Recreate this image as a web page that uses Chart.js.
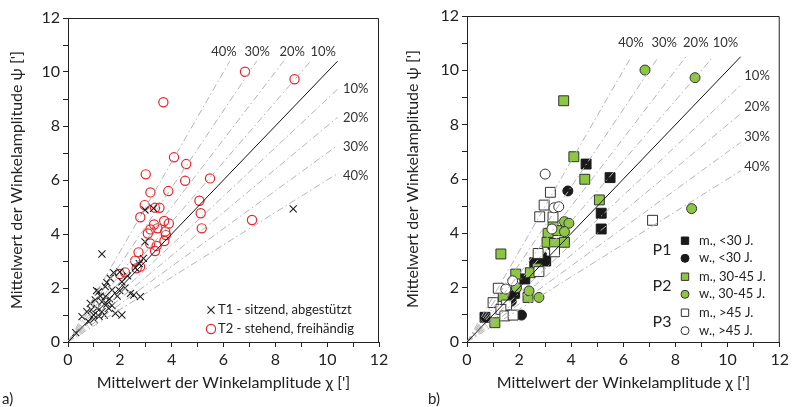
<!DOCTYPE html>
<html><head><meta charset="utf-8">
<script src="https://cdn.jsdelivr.net/npm/chart.js@4.4.0/dist/chart.umd.min.js"></script>
<style>
html,body{margin:0;padding:0;background:#fff;width:792px;height:407px;overflow:hidden}
canvas{position:absolute;top:0}
#ca{left:0}#cb{left:396px}
</style></head><body>
<canvas id="ca" width="396" height="407"></canvas>
<canvas id="cb" width="396" height="407"></canvas>
<script>
// ---------- data ----------
const axisMin = 0, axisMax = 12;
const tickLabels = ['0','2','4','6','8','10','12'];
const deviations = [0.1, 0.2, 0.3, 0.4];
const deviationLabels = ['10%', '20%', '30%', '40%'];
const guideEndA = 10.4, guideEndB = 10.5;

// chart a)
const t1Points = [[0.3,0.35],[0.54,0.94],[0.73,1.12],[0.8,0.75],[0.86,1.43],[0.9,1.2],[0.99,1.0],[1.0,0.85],
 [1.05,1.56],[1.1,1.9],[1.12,1.25],[1.18,1.86],[1.2,0.95],[1.25,1.7],[1.31,1.49],[1.31,1.12],[1.4,1.0],
 [1.44,1.68],[1.44,2.05],[1.5,1.4],[1.5,2.2],[1.57,1.25],[1.6,1.6],[1.63,2.36],[1.7,1.93],[1.7,1.35],
 [1.76,2.57],[1.83,1.06],[1.9,1.7],[2.0,1.9],[2.0,2.6],[2.08,1.0],[2.08,2.23],[2.2,2.0],[2.3,2.45],
 [2.41,1.8],[2.54,1.74],[2.6,2.75],[2.75,2.9],[2.79,1.68],[1.31,3.26],[2.91,3.1],[2.97,3.71],[2.97,4.89],
 [3.3,4.95],[8.69,4.93]];
const t2Points = [[2.0,2.52],[2.2,2.58],[2.65,2.73],[2.78,2.79],[2.59,3.01],[2.72,3.32],[3.36,3.37],[3.42,3.56],
 [3.17,3.65],[3.72,3.74],[3.78,3.96],[3.08,4.02],[3.75,4.09],[3.45,4.21],[3.18,4.17],[3.32,4.35],[3.89,4.39],
 [3.71,4.48],[2.79,4.62],[5.12,4.77],[3.53,4.97],[3.36,4.97],[2.96,5.07],[5.07,5.23],[3.87,5.59],[3.18,5.54],
 [5.48,6.06],[4.52,5.97],[3.0,6.21],[4.56,6.59],[4.09,6.84],[5.16,4.21],[7.1,4.52],[3.68,8.88],[6.83,10.01],[8.74,9.73]];

// chart b)
const p1Male = [[4.57,6.55],[5.49,6.05],[5.15,4.74],[5.15,4.16],[2.6,2.92],[3.02,2.98],[2.85,3.1],[3.3,3.6],
 [2.22,2.32],[1.83,1.79],[1.5,1.1],[0.69,0.91]];
const p1Female = [[3.87,5.56],[2.09,0.99],[1.7,1.5]];
const p2Male = [[3.71,8.88],[4.1,6.82],[4.52,5.99],[5.08,5.23],[3.3,4.3],[3.45,4.1],[3.11,4.0],[3.07,3.67],
 [3.36,3.63],[3.74,3.67],[1.3,3.24],[2.7,2.7],[1.87,2.5],[2.43,2.55],[1.39,1.67],[2.34,1.64],[1.07,0.71]];
const p2Female = [[6.83,10.01],[8.75,9.73],[8.62,4.91],[3.74,4.43],[3.91,4.37],[3.74,4.06],[2.38,1.88],[2.76,1.64],[1.9,2.0]];
const p3Male = [[3.2,5.51],[2.96,5.04],[2.79,4.61],[3.3,4.6],[7.12,4.48],[2.73,3.26],[3.36,3.32],[2.76,2.59],
 [1.2,1.98],[1.0,1.45],[1.52,1.36],[1.3,1.2],[1.45,0.96],[1.77,0.99]];
const p3Female = [[3.0,6.18],[3.34,4.94],[3.52,4.98],[3.26,4.16],[1.75,2.25],[1.49,1.95]];

// ---------- helpers ----------
const F = 'Lato, "Open Sans", sans-serif';
const INK = '#222';
const pts = a => a.map(p => ({x:p[0], y:p[1]}));

function guideDatasets(L){
  const ds = [{data:[{x:0,y:0},{x:L,y:L}], showLine:true, pointRadius:0, borderColor:'#111', borderWidth:1}];
  deviations.forEach(p=>{
    ds.push({data:[{x:0,y:0},{x:L*(1-p),y:L}], showLine:true, pointRadius:0, borderColor:'#b4b4b4', borderWidth:1, borderDash:[7,3,1.5,3]});
    ds.push({data:[{x:0,y:0},{x:L,y:L*(1-p)}], showLine:true, pointRadius:0, borderColor:'#b4b4b4', borderWidth:1, borderDash:[7,3,1.5,3]});
  });
  return ds;
}

function scales(yWidth, xHeight){
  const cb = v => { const i = tickLabels.indexOf(String(v)); return i>=0 ? tickLabels[i] : ''; };
  const common = {
    type:'linear', min:axisMin, max:axisMax,
    ticks:{stepSize:1, autoSkip:false, callback:cb, font:{family:F,size:16}, color:INK, padding:3, maxRotation:0},
    grid:{drawOnChartArea:false, drawTicks:true, tickLength:5, tickColor:INK, tickWidth:1},
    border:{color:INK, width:1}
  };
  return {
    x: Object.assign({}, common, {
      title:{display:true, text:"Mittelwert der Winkelamplitude χ [']", font:{family:F,size:16}, color:INK, padding:{top:0,bottom:15}},
      afterFit(s){ s.height = xHeight; }
    }),
    y: Object.assign({}, common, {
      title:{display:true, text:"Mittelwert der Winkelamplitude ψ [']", font:{family:F,size:16}, color:INK, padding:{top:7,bottom:0}},
      afterFit(s){ s.width = yWidth; }
    })
  };
}

function marker(ctx, style, r, x, y, fill, stroke, bw){
  ctx.save();
  ctx.fillStyle = fill; ctx.strokeStyle = stroke; ctx.lineWidth = bw;
  Chart.helpers.drawPoint(ctx, {pointStyle:style, radius:r, rotation:0, borderWidth:bw}, x, y);
  ctx.restore();
}

const decor = {
  id:'decor',
  afterDraw(chart, args, o){
    const {ctx, chartArea:a, scales:{x, y}} = chart;
    ctx.save();
    ctx.strokeStyle = INK; ctx.lineWidth = 1;
    ctx.beginPath();
    ctx.moveTo(a.left, a.top+0.5); ctx.lineTo(a.right-0.5, a.top+0.5); ctx.lineTo(a.right-0.5, a.bottom);
    ctx.stroke();
    ctx.fillStyle = '#333';
    ctx.font = '13px ' + F;
    ctx.textAlign = 'center'; ctx.textBaseline = 'middle';
    o.top.forEach((px, i) => ctx.fillText(deviationLabels[3-i], x.getPixelForValue(px), y.getPixelForValue(o.topY)));
    o.side.forEach((py, i) => ctx.fillText(deviationLabels[i], x.getPixelForValue(o.sideX), y.getPixelForValue(py)));
    // panel letter
    ctx.fillStyle = INK; ctx.font = '15px ' + F; ctx.textAlign = 'left';
    ctx.fillText(o.letter, o.letterX, 399);
    // legend
    o.legend(ctx);
    ctx.restore();
  }
};

// ---------- chart a ----------
new Chart(document.getElementById('ca'), {
  type:'scatter',
  data:{datasets:[
    ...guideDatasets(guideEndA),
    {data:pts(t1Points), pointStyle:'crossRot', pointRadius:5, borderColor:'#1e1e1e', borderWidth:1.1, backgroundColor:'#1e1e1e'},
    {data:pts(t2Points), pointStyle:'circle', pointRadius:4.6, borderColor:'#e8232a', borderWidth:1.2, backgroundColor:'rgba(0,0,0,0)'}
  ]},
  options:{
    responsive:false, animation:false, devicePixelRatio:1,
    layout:{padding:{left:0, top:18, right:17, bottom:0}},
    plugins:{legend:{display:false}, tooltip:{enabled:false},
      decor:{top:[6.02,7.3,8.65,9.85], topY:10.74, side:[9.37,8.3,7.22,6.15], sideX:11.1, letter:'a)', letterX:2,
        legend(ctx){
          ctx.font = '13px ' + F; ctx.textAlign='left'; ctx.textBaseline='middle'; ctx.fillStyle = INK;
          marker(ctx,'crossRot',5,211,310,'#1e1e1e','#1e1e1e',1.1);
          ctx.fillStyle = INK; ctx.fillText('T1 - sitzend, abgestützt', 218, 310);
          marker(ctx,'circle',4.6,211,329,'rgba(0,0,0,0)','#e8232a',1.2);
          ctx.fillStyle = INK; ctx.fillText('T2 - stehend, freihändig', 218, 329);
        }}},
    scales: scales(68, 65)
  },
  plugins:[decor]
});

// ---------- chart b ----------
const green = '#8dc63f';
new Chart(document.getElementById('cb'), {
  type:'scatter',
  data:{datasets:[
    ...guideDatasets(guideEndB),
    {data:pts(p3Female), pointStyle:'circle', pointRadius:5, backgroundColor:'#fff', borderColor:'#333', borderWidth:1},
    {data:pts(p3Male), pointStyle:'rect', pointRadius:7, backgroundColor:'#fff', borderColor:'#333', borderWidth:1},
    {data:pts(p2Female), pointStyle:'circle', pointRadius:5, backgroundColor:green, borderColor:'#333', borderWidth:1},
    {data:pts(p2Male), pointStyle:'rect', pointRadius:7, backgroundColor:green, borderColor:'#333', borderWidth:1},
    {data:pts(p1Female), pointStyle:'circle', pointRadius:5, backgroundColor:'#1a1a1a', borderColor:'#1a1a1a', borderWidth:1},
    {data:pts(p1Male), pointStyle:'rect', pointRadius:7, backgroundColor:'#1a1a1a', borderColor:'#1a1a1a', borderWidth:1}
  ]},
  options:{
    responsive:false, animation:false, devicePixelRatio:1,
    layout:{padding:{left:0, top:16, right:11, bottom:0}},
    plugins:{legend:{display:false}, tooltip:{enabled:false},
      decor:{top:[6.29,7.57,8.78,9.92], topY:11.0, side:[9.79,8.66,7.56,6.45], sideX:11.13, letter:'b)', letterX:32,
        legend(ctx){
          const rows = [
            ['rect',5.2,'#1a1a1a','#1a1a1a','m., <30 J.',240.7],
            ['circle',4,'#1a1a1a','#1a1a1a','w., <30 J.',258.3],
            ['rect',5.2,green,'#333','m., 30-45 J.',276.7],
            ['circle',4,green,'#333','w., 30-45 J.',294.3],
            ['rect',5.2,'#fff','#333','m., >45 J.',312.7],
            ['circle',4,'#fff','#333','w., >45 J.',330.7]
          ];
          ctx.textBaseline='middle';
          rows.forEach(r=>{
            marker(ctx,r[0],r[1],289,r[5],r[2],r[3],1);
            ctx.fillStyle = INK; ctx.font = '13px ' + F; ctx.textAlign='left';
            ctx.fillText(r[4], 303, r[5]);
          });
          ctx.font = '16px ' + F; ctx.textAlign='center'; ctx.fillStyle = INK;
          ctx.fillText('P1', 266, 249.5);
          ctx.fillText('P2', 266, 285.5);
          ctx.fillText('P3', 266, 321.7);
        }}},
    scales: scales(71, 65)
  },
  plugins:[decor]
});
</script>
</body></html>
